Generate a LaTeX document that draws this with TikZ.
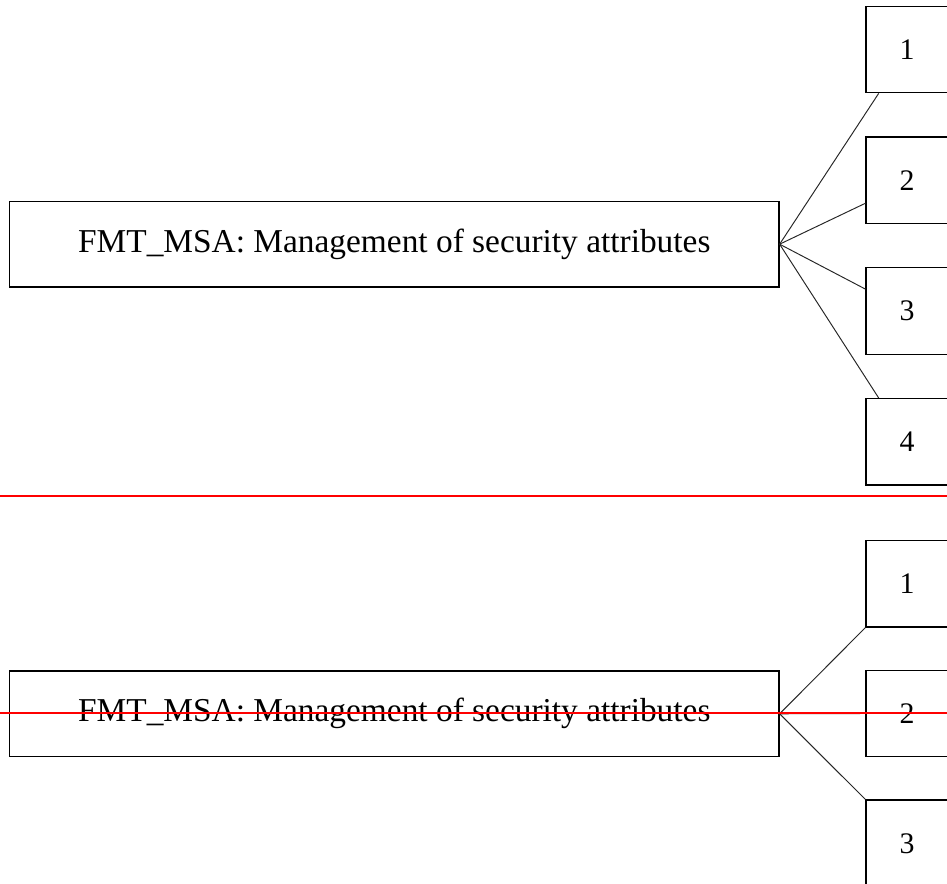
\documentclass[tikz,border=0pt]{standalone}
\usepackage{fontspec}
\setmainfont{Liberation Serif}
\usetikzlibrary{positioning,calc}
\tikzset{
    caixa/.style={
        rectangle,
        draw,
        line width=0.75pt,
        inner sep=0pt
    },
    titulo/.style={caixa, minimum width=15.39cm, minimum height=1.71cm,
        font=\fontsize{19}{22}\selectfont},
    item/.style={caixa, minimum width=1.64cm, minimum height=1.73cm,
        font=\fontsize{17}{20}\selectfont},
    ramo/.style={line width=0.55pt, black!85},
    marcaVermelha/.style={draw=red, line width=1.3pt}
}
\begin{document}
\begin{tikzpicture}[x=0.02cm, y=-0.02cm, node distance=0.86cm]
        \useasboundingbox (0,0) rectangle (947,884);
        \clip (0,0) rectangle (947,884);

        % diagrama de cima
        \node[titulo] (msaA) at (394.3,244.2)
            {FMT\_MSA: Management of security attributes};
        \node[item] (a1) at (907,49.5) {1};
        \node[item, below=of a1] (a2) {2};
        \node[item, below=of a2] (a3) {3};
        \node[item, below=of a3] (a4) {4};

        \draw[ramo] (msaA.east) -- ($(a1.south west)!0.16!(a1.south east)$);
        \draw[ramo] (msaA.east) -- ($(a2.west)+(0,23)$);
        \draw[ramo] (msaA.east) -- ($(a3.west)+(0,-22)$);
        \draw[ramo] (msaA.east) -- ($(a4.north west)!0.16!(a4.north east)$);

        \draw[marcaVermelha] (0,495.8) -- (947,495.8);

        % diagrama de baixo
        \node[titulo] (msaB) at (394.3,713.8)
            {FMT\_MSA: Management of security attributes};
        \node[item] (b2) at (907,713.5) {2};
        \node[item, above=0.84cm of b2] (b1) {1};
        \node[item, below=0.84cm of b2] (b3) {3};

        \draw[ramo] (msaB.east) -- (b1.south west);
        \draw[ramo] (msaB.east) -- (b2.west);
        \draw[ramo] (msaB.east) -- (b3.north west);

        \draw[marcaVermelha] (0,712.7) -- (947,712.7);
\end{tikzpicture}
\end{document}
